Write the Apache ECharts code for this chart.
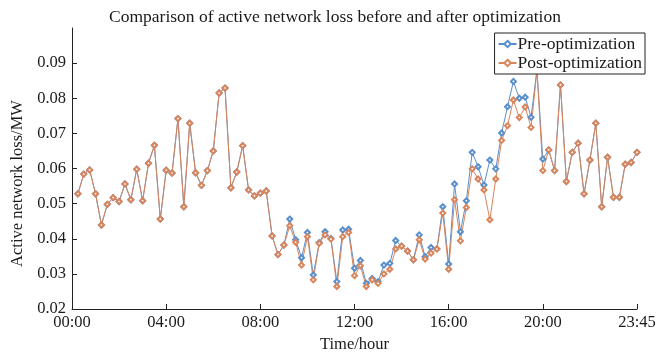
<!DOCTYPE html>
<html>
<head>
<meta charset="utf-8">
<script src="https://cdn.jsdelivr.net/npm/echarts@6/dist/echarts.min.js"></script>
<style>html,body{margin:0;padding:0;background:#fff}#c{width:657px;height:353px}</style>
</head>
<body>
<div id="c"></div>
<script>
var tickPositions = [0, 16, 32, 48, 64, 80, 96];
var tickLabels = ['00:00', '04:00', '08:00', '12:00', '16:00', '20:00', '23:45'];
var yTicks = [0.02, 0.03, 0.04, 0.05, 0.06, 0.07, 0.08, 0.09];

var preOptimization = [
  0.0528, 0.0584, 0.0596, 0.0528, 0.0439, 0.0498, 0.0517, 0.0506, 0.0556, 0.0511,
  0.0598, 0.0508, 0.0615, 0.0666, 0.0456, 0.0595, 0.0587, 0.0742, 0.0491, 0.0729,
  0.0588, 0.0552, 0.0594, 0.0650, 0.0815, 0.0829, 0.0545, 0.0590, 0.0665, 0.0539,
  0.0522, 0.0530, 0.0536, 0.0408, 0.0355, 0.0382, 0.0456, 0.0397, 0.0346, 0.0418,
  0.0297, 0.0389, 0.0420, 0.0401, 0.0278, 0.0425, 0.0427, 0.0316, 0.0338, 0.0273,
  0.0287, 0.0278, 0.0325, 0.0330, 0.0395, 0.0379, 0.0365, 0.0340, 0.0411, 0.0349,
  0.0375, 0.0371, 0.0491, 0.0328, 0.0556, 0.0420, 0.0508, 0.0646, 0.0605, 0.0553,
  0.0624, 0.0599, 0.0701, 0.0776, 0.0848, 0.0800, 0.0803, 0.0746, 0.0880, 0.0627,
  0.0653, 0.0594, 0.0838, 0.0563, 0.0646, 0.0672, 0.0528, 0.0624, 0.0729, 0.0491,
  0.0632, 0.0518, 0.0518, 0.0612, 0.0617, 0.0646
];
var postOptimization = [
  0.0528, 0.0584, 0.0596, 0.0528, 0.0439, 0.0498, 0.0517, 0.0506, 0.0556, 0.0511,
  0.0598, 0.0508, 0.0615, 0.0666, 0.0456, 0.0595, 0.0587, 0.0742, 0.0491, 0.0729,
  0.0588, 0.0552, 0.0594, 0.0650, 0.0815, 0.0829, 0.0545, 0.0590, 0.0665, 0.0539,
  0.0522, 0.0530, 0.0536, 0.0408, 0.0355, 0.0382, 0.0437, 0.0390, 0.0325, 0.0406,
  0.0283, 0.0387, 0.0411, 0.0399, 0.0264, 0.0406, 0.0418, 0.0295, 0.0323, 0.0264,
  0.0283, 0.0273, 0.0300, 0.0313, 0.0371, 0.0379, 0.0365, 0.0340, 0.0397, 0.0342,
  0.0359, 0.0371, 0.0473, 0.0313, 0.0511, 0.0394, 0.0489, 0.0599, 0.0570, 0.0539,
  0.0454, 0.0570, 0.0680, 0.0722, 0.0795, 0.0745, 0.0775, 0.0717, 0.0880, 0.0594,
  0.0653, 0.0594, 0.0838, 0.0563, 0.0646, 0.0672, 0.0528, 0.0624, 0.0729, 0.0491,
  0.0632, 0.0518, 0.0518, 0.0612, 0.0617, 0.0646
];

function toPairs(arr) { return arr.map(function (v, i) { return [i + 1, v]; }); }

var FONT = '"Liberation Serif", "Times New Roman", serif';
var chart = echarts.init(document.getElementById('c'), null, { renderer: 'canvas' });
chart.setOption({
  animation: false,
  backgroundColor: '#fff',
  title: {
    text: 'Comparison of active network loss before and after optimization',
    left: 330, top: 3, textAlign: 'center',
    textStyle: { fontFamily: FONT, fontSize: 17.5, fontWeight: 'normal', color: '#1a1a1a' }
  },
  legend: {
    orient: 'vertical', right: 12, top: 33,
    itemGap: 1, itemWidth: 18, itemHeight: 8,
    padding: [2, 3, 2, 3],
    borderColor: '#222', borderWidth: 1, backgroundColor: '#fff',
    textStyle: { fontFamily: FONT, fontSize: 17.5, color: '#1a1a1a', padding: [0, 0, 0, -4] },
    data: ['Pre-optimization', 'Post-optimization']
  },
  grid: { left: 72, right: 20, top: 28, bottom: 44, containLabel: false, outerBoundsMode: 'none' },
  xAxis: {
    type: 'value', min: 0, max: 96,
    name: 'Time/hour', nameLocation: 'middle', nameGap: 22,
    nameTextStyle: { fontFamily: FONT, fontSize: 16.5, color: '#1a1a1a' },
    axisLine: { lineStyle: { color: '#222', width: 1 } },
    axisTick: { inside: true, length: 5, customValues: tickPositions, lineStyle: { color: '#222' } },
    axisLabel: {
      customValues: tickPositions, margin: 5,
      formatter: function (v) { return tickLabels[tickPositions.indexOf(v)]; },
      fontFamily: FONT, fontSize: 16.5, color: '#1a1a1a'
    },
    splitLine: { show: false }
  },
  yAxis: {
    type: 'value', min: 0.02, max: 0.1,
    name: 'Active network loss/MW', nameLocation: 'middle', nameGap: 46, nameRotate: 90,
    nameTextStyle: { fontFamily: FONT, fontSize: 16.5, color: '#1a1a1a', padding: [0, 30, 0, 0] },
    axisLine: { show: true, lineStyle: { color: '#222', width: 1 } },
    axisTick: { show: true, inside: true, length: 5, customValues: yTicks, lineStyle: { color: '#222' } },
    axisLabel: {
      customValues: yTicks, margin: 6,
      formatter: function (v) { return v.toFixed(2); },
      fontFamily: FONT, fontSize: 16.5, color: '#1a1a1a'
    },
    splitLine: { show: false }
  },
  series: [
    {
      name: 'Pre-optimization', type: 'line', data: toPairs(preOptimization),
      symbol: 'emptyDiamond', symbolSize: 5,
      lineStyle: { color: '#5a8fcc', width: 1 },
      itemStyle: { color: '#5a8fcc', borderWidth: 1 }
    },
    {
      name: 'Post-optimization', type: 'line', data: toPairs(postOptimization),
      symbol: 'emptyDiamond', symbolSize: 5,
      lineStyle: { color: '#d9845a', width: 1 },
      itemStyle: { color: '#d9845a', borderWidth: 1 }
    }
  ]
});
</script>
</body>
</html>
